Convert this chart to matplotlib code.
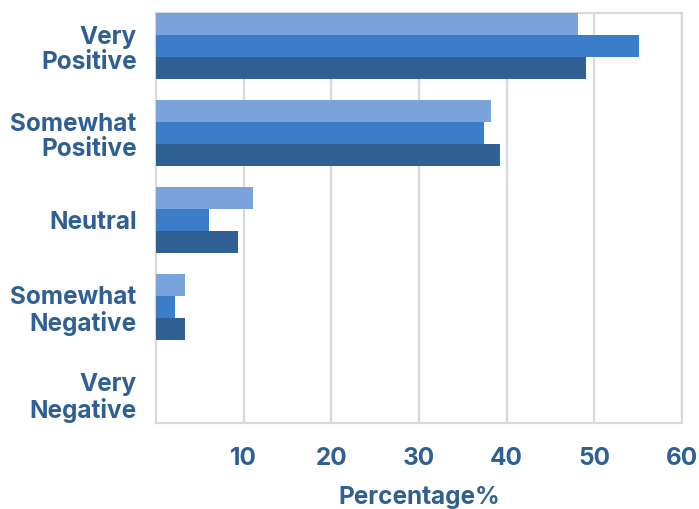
import matplotlib.pyplot as plt
import numpy as np

categories = ["Very\nPositive", "Somewhat\nPositive", "Neutral", "Somewhat\nNegative", "Very\nNegative"]
series_light = [48.1, 38.2, 11.1, 3.3, 0]
series_mid = [55.1, 37.4, 6.1, 2.2, 0]
series_dark = [49.1, 39.2, 9.3, 3.3, 0]
xticks = [10, 20, 30, 40, 50, 60]

blue_txt = "#2f5f93"
grid_c = "#d9d9d9"

plt.rcParams['font.family'] = ['Inter', 'DejaVu Sans']

fig = plt.figure(figsize=(6.99, 5.09), dpi=100)
ax = fig.add_axes([0.2232, 0.169, 0.7525, 0.8055])

y = np.arange(len(categories))
h = 0.253
ax.barh(y - h, series_light, height=h, color="#7aa3dc", zorder=3)
ax.barh(y, series_mid, height=h, color="#3c7dc9", zorder=3)
ax.barh(y + h, series_dark, height=h, color="#316094", zorder=3)

ax.set_xlim(0, 60)
ax.set_ylim(4.33, -0.38)
ax.set_xticks(xticks)
ax.set_xticklabels([str(t) for t in xticks])
ax.set_yticks(y)
ax.set_yticklabels(categories, linespacing=1.12)

ax.grid(axis='x', color=grid_c, linewidth=1.6, zorder=0)
for s in ax.spines.values():
    s.set_color(grid_c)
    s.set_linewidth(1.6)

ax.tick_params(axis='x', length=0, pad=17, labelsize=17.5, labelcolor=blue_txt)
ax.tick_params(axis='y', length=0, pad=14, labelsize=17.5, labelcolor=blue_txt)
for lbl in ax.get_xticklabels() + ax.get_yticklabels():
    lbl.set_fontweight('bold')

ax.set_xlabel("Percentage%", fontsize=17.5, fontweight='bold', color=blue_txt, labelpad=12)

fig.savefig("out.png", dpi=100)
